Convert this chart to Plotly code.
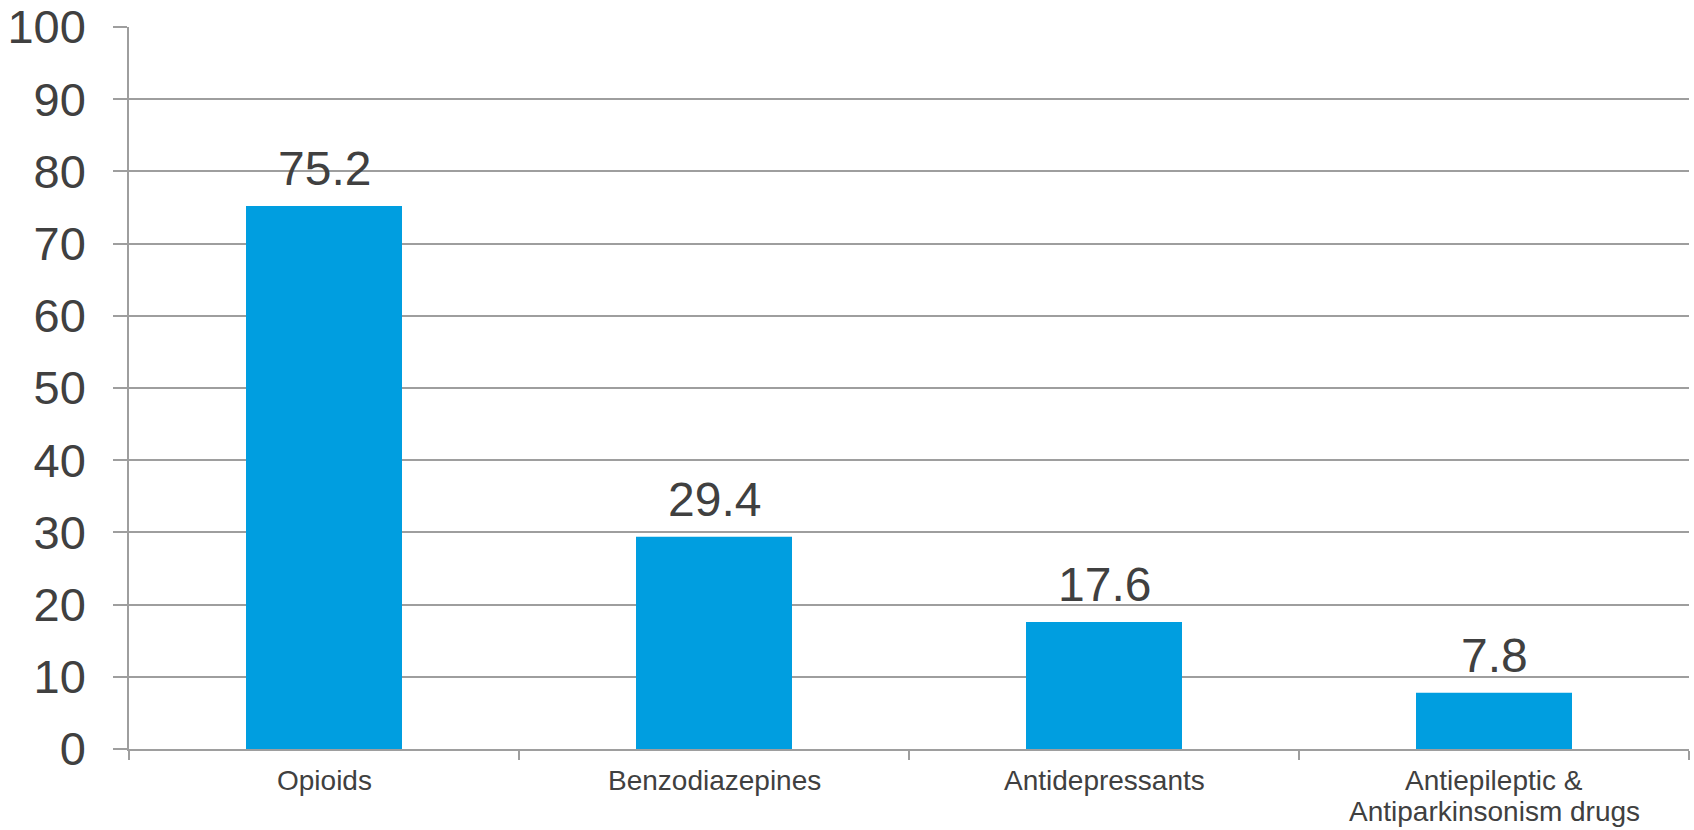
import plotly.graph_objects as go

categories = ["Opioids", "Benzodiazepines", "Antidepressants", "Antiepileptic &<br>Antiparkinsonism drugs"]
values = [75.2, 29.4, 17.6, 7.8]
value_labels = ["75.2", "29.4", "17.6", "7.8"]

FONT = "Liberation Sans, Arial"
TXT = "#404040"
GRID = "#9e9e9e"

fig = go.Figure()
fig.add_trace(go.Bar(x=categories, y=values, marker=dict(color="#009EE0", line=dict(width=0)),
                     hoverinfo="skip"))

for c, v, t in zip(categories, values, value_labels):
    fig.add_annotation(x=c, y=v, text=t, showarrow=False, yanchor="bottom", yshift=9,
                       font=dict(family=FONT, size=48, color=TXT))

# category labels, one annotation per line for tighter line spacing
for c in categories:
    for i, line in enumerate(c.split("<br>")):
        fig.add_annotation(x=c, xref="x", y=0, yref="paper", text=line, showarrow=False,
                           yanchor="top", yshift=-14 - 31 * i,
                           font=dict(family=FONT, size=28, color=TXT))

fig.update_layout(
    width=1694, height=830,
    margin=dict(l=129, r=5, t=27, b=81),
    paper_bgcolor="white", plot_bgcolor="white",
    bargap=0.6, showlegend=False,
    font=dict(family=FONT, color=TXT),
)
fig.update_yaxes(range=[0, 100], dtick=10, showgrid=True, gridcolor=GRID, gridwidth=1.5,
                 showline=True, linecolor=GRID, linewidth=1.5,
                 ticks="outside", ticklen=14, tickcolor=GRID, tickwidth=1.5,
                 tickfont=dict(size=47, color=TXT), ticklabelstandoff=18,
                 zeroline=False, fixedrange=True, automargin=False)
fig.update_xaxes(showline=True, linecolor=GRID, linewidth=1.5,
                 ticks="outside", ticklen=9, tickcolor=GRID, tickwidth=1.5,
                 tickson="boundaries", showticklabels=False,
                 fixedrange=True, automargin=False)

fig.write_html("out.html", config={"displayModeBar": False})
